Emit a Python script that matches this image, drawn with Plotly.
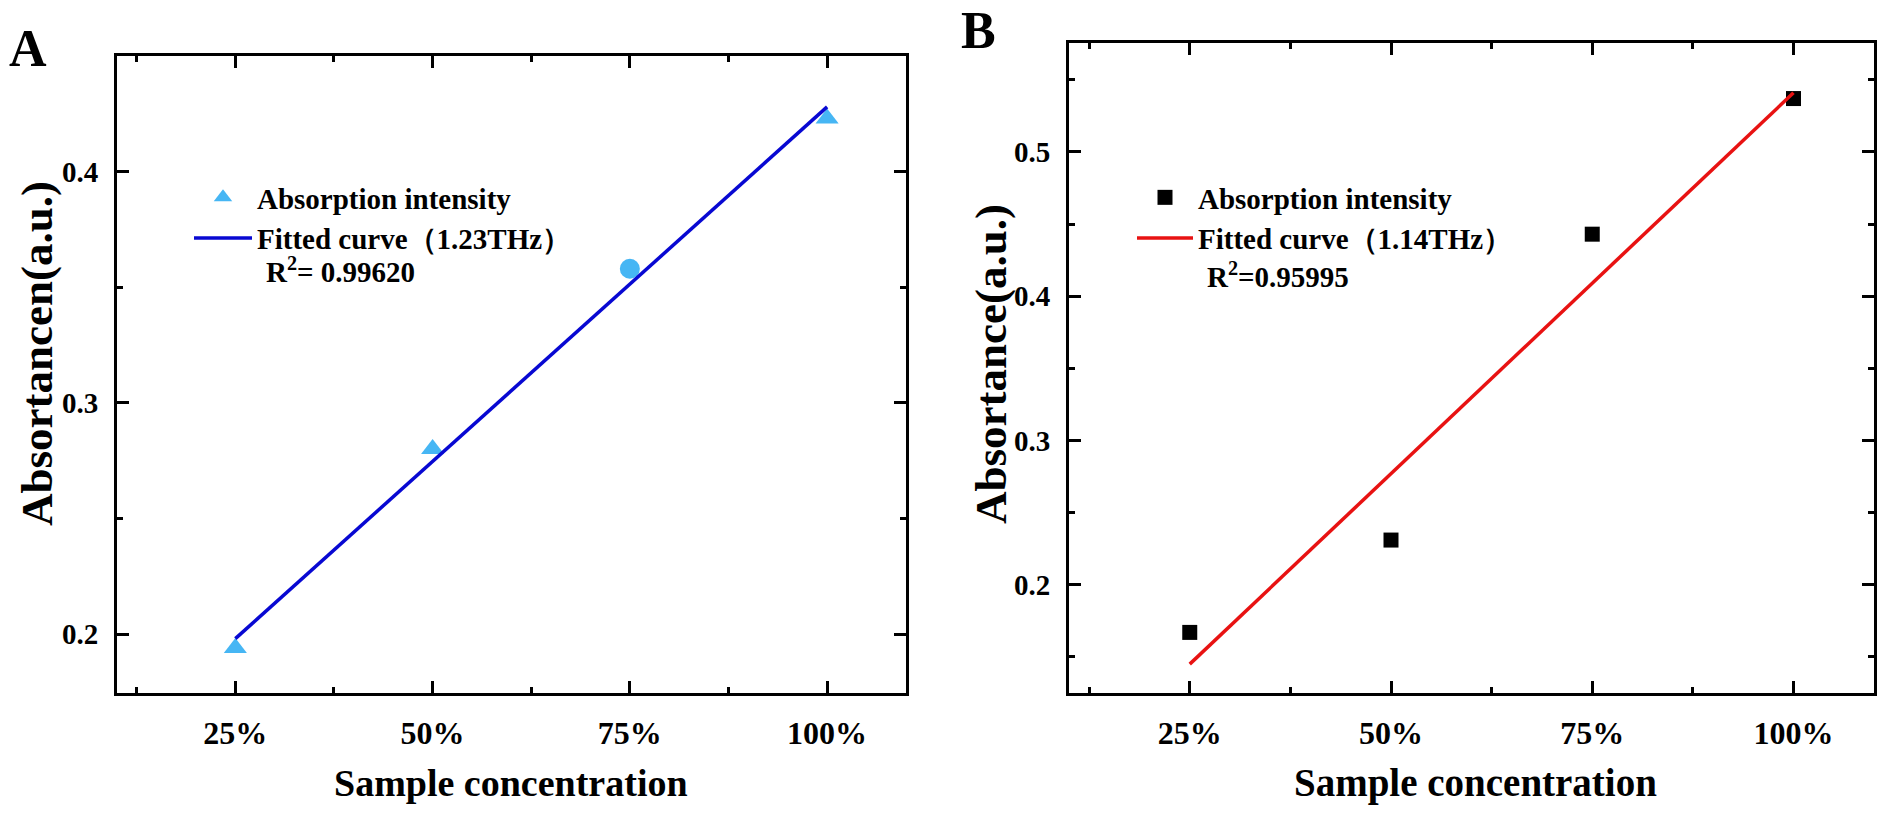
import plotly.graph_objects as go

# ---- data ----
concentration = [25, 50, 75, 100]
x_tick_labels = ["25%", "50%", "75%", "100%"]

absorb_a = [0.194, 0.280, 0.358, 0.423]
fit_a_x = [25, 100]
fit_a_y = [0.198, 0.428]

absorb_b = [0.167, 0.231, 0.443, 0.537]
fit_b_x = [25, 100]
fit_b_y = [0.145, 0.541]

# ---- styles ----
symbols_a = ["triangle-up", "triangle-up", "circle", "triangle-up"]

FONT = "Liberation Serif, Times New Roman, serif"
W, H = 1890, 817

fig = go.Figure()

fig.add_trace(go.Scatter(
    x=concentration, y=absorb_a, mode="markers", name="Absorption intensity",
    marker=dict(symbol=symbols_a, size=20, color="rgb(70,182,244)", line=dict(width=0)),
    xaxis="x", yaxis="y", legend="legend"))
fig.add_trace(go.Scatter(
    x=fit_a_x, y=fit_a_y, mode="lines", name="Fitted curve（1.23THz）",
    line=dict(color="rgb(8,8,210)", width=3.5),
    xaxis="x", yaxis="y", legend="legend"))

fig.add_trace(go.Scatter(
    x=concentration, y=absorb_b, mode="markers", name="Absorption intensity",
    marker=dict(symbol="square", size=15, color="black", line=dict(width=0)),
    xaxis="x2", yaxis="y2", legend="legend2"))
fig.add_trace(go.Scatter(
    x=fit_b_x, y=fit_b_y, mode="lines", name="Fitted curve（1.14THz）",
    line=dict(color="rgb(232,18,18)", width=3.5),
    xaxis="x2", yaxis="y2", legend="legend2"))


def xaxis_style(domain, anchor):
    return dict(
        domain=domain, anchor=anchor, range=[10, 110],
        tickmode="array", tickvals=concentration, ticktext=x_tick_labels,
        showline=True, linecolor="black", linewidth=3, mirror="ticks",
        ticks="inside", ticklen=12, tickwidth=3, tickcolor="black",
        minor=dict(dtick=12.5, tick0=0, ticks="inside", ticklen=6, tickwidth=3, tickcolor="black"),
        showgrid=False, zeroline=False, automargin=False,
        tickfont=dict(family=FONT, size=32, color="black", weight="bold"),
        ticklabelstandoff=10,
    )


def yaxis_style(domain, anchor, rng):
    return dict(
        domain=domain, anchor=anchor, range=rng,
        dtick=0.1, tick0=0, tickformat=".1f",
        showline=True, linecolor="black", linewidth=3, mirror="ticks",
        ticks="inside", ticklen=12, tickwidth=3, tickcolor="black",
        minor=dict(dtick=0.05, tick0=0, ticks="inside", ticklen=6, tickwidth=3, tickcolor="black"),
        showgrid=False, zeroline=False, automargin=False,
        tickfont=dict(family=FONT, size=29, color="black", weight="bold"),
        ticklabelstandoff=10,
    )


ya_dom = [1 - 693 / H, 1 - 56 / H]
yb_dom = [1 - 693 / H, 1 - 43 / H]

legend_font = dict(family=FONT, size=29, color="black", weight="bold")

fig.update_layout(
    width=W, height=H,
    margin=dict(l=0, r=0, t=0, b=0),
    paper_bgcolor="white", plot_bgcolor="white",
    font=dict(family=FONT, color="black"),
    xaxis=xaxis_style([117 / W, 906 / W], "y"),
    yaxis=yaxis_style(ya_dom, "x", [0.1745, 0.450]),
    xaxis2=xaxis_style([1069 / W, 1874 / W], "y2"),
    yaxis2=yaxis_style(yb_dom, "x2", [0.125, 0.5755]),
    legend=dict(x=189 / W, y=1 - 172 / H, xanchor="left", yanchor="top",
                bgcolor="rgba(0,0,0,0)", borderwidth=0, itemwidth=58,
                font=legend_font, tracegroupgap=0),
    legend2=dict(x=1132 / W, y=1 - 172 / H, xanchor="left", yanchor="top",
                 bgcolor="rgba(0,0,0,0)", borderwidth=0, itemwidth=56,
                 font=legend_font, tracegroupgap=0),
    showlegend=True,
)

ann = []
ann.append(dict(text="<b>A</b>", x=28 / W, y=1 - 48 / H, xref="paper", yref="paper",
                xanchor="center", yanchor="middle", showarrow=False,
                font=dict(family=FONT, size=52, color="black")))
ann.append(dict(text="<b>B</b>", x=978 / W, y=1 - 31 / H, xref="paper", yref="paper",
                xanchor="center", yanchor="middle", showarrow=False,
                font=dict(family=FONT, size=52, color="black")))
# axis titles
ann.append(dict(text="<b>Sample concentration</b>", x=511 / W, y=1 - 783 / H, xref="paper", yref="paper",
                xanchor="center", yanchor="middle", showarrow=False,
                font=dict(family=FONT, size=38, color="black")))
ann.append(dict(text="<b>Sample concentration</b>", x=1475 / W, y=1 - 783 / H, xref="paper", yref="paper",
                xanchor="center", yanchor="middle", showarrow=False,
                font=dict(family=FONT, size=39, color="black")))
ann.append(dict(text="<b>Absortancen(a.u.)</b>", x=37 / W, y=1 - 354 / H, xref="paper", yref="paper",
                xanchor="center", yanchor="middle", showarrow=False, textangle=-90,
                font=dict(family=FONT, size=45, color="black")))
ann.append(dict(text="<b>Absortance(a.u.)</b>", x=991 / W, y=1 - 364 / H, xref="paper", yref="paper",
                xanchor="center", yanchor="middle", showarrow=False, textangle=-90,
                font=dict(family=FONT, size=45, color="black")))
# R^2 labels
ann.append(dict(text="<b>R<sup>2</sup>= 0.99620</b>", x=264 / W, y=1 - 270 / H, xref="paper", yref="paper",
                xanchor="left", yanchor="middle", showarrow=False,
                font=dict(family=FONT, size=29, color="black")))
ann.append(dict(text="<b>R<sup>2</sup>=0.95995</b>", x=1205 / W, y=1 - 275 / H, xref="paper", yref="paper",
                xanchor="left", yanchor="middle", showarrow=False,
                font=dict(family=FONT, size=29, color="black")))
fig.update_layout(annotations=ann)

fig.write_html("out.html", config={"displayModeBar": False},
               post_script="document.body.style.margin='0';document.body.style.overflow='hidden';")
